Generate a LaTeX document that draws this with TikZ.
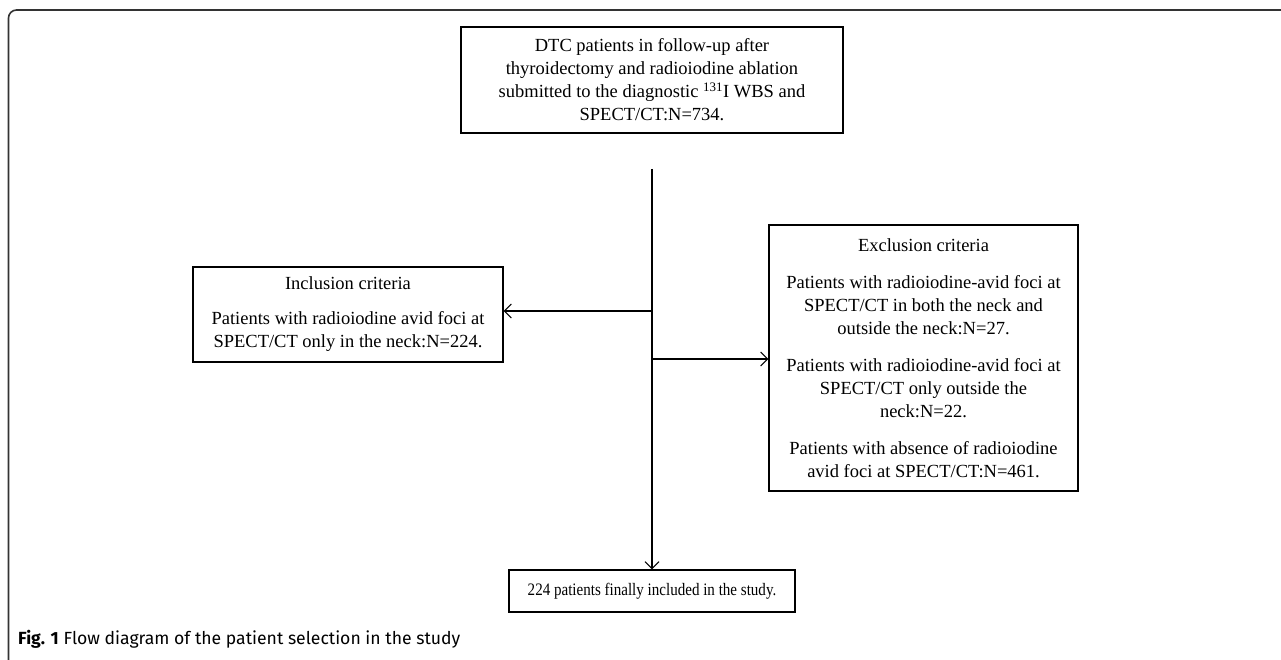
\documentclass[tikz,border=0pt]{standalone}
\usepackage{fontspec}
\usepackage{graphicx}
\setmainfont{Liberation Serif}
\newfontfamily\capfont{Fira Sans}
\usetikzlibrary{arrows.meta}
\begin{document}
\begin{tikzpicture}[x=1pt,y=-1pt,
  boxnode/.style={draw, line width=1.1pt, align=center, inner sep=0pt,
    font=\fontsize{18.5}{23}\selectfont},
  conn/.style={line width=1.1pt, -{Straight Barb[length=7pt,width=14pt,line width=1.1pt]}},
  frameline/.style={line width=1.6pt, draw=black!80}]
\useasboundingbox (0,0) rectangle (1281,660);
\begin{scope}
\clip (0,0) rectangle (1281,660);
\draw[frameline, rounded corners=8pt] (8.5,663) -- (8.5,10) -- (1300,10);
\end{scope}
\node[boxnode, minimum width=382pt, minimum height=106pt] (top) at (652,80)
  {\raisebox{-4pt}{\parbox{380pt}{\centering DTC patients in follow-up after\\ thyroidectomy and radioiodine ablation\\ submitted to the diagnostic \textsuperscript{131}I WBS and\\ SPECT/CT:N=734.}}};
\node[boxnode, minimum width=310pt, minimum height=95pt] (incl) at (348,314.5)
  {\raisebox{-3pt}{\parbox{300pt}{\centering Inclusion criteria\\[12pt] Patients with radioiodine avid foci at\\ SPECT/CT only in the neck:N=224.}}};
\node[boxnode, minimum width=309pt, minimum height=266pt] (excl) at (923.5,358)
  {Exclusion criteria\\[14pt] Patients with radioiodine-avid foci at\\ SPECT/CT in both the neck and\\ outside the neck:N=27.\\[14pt] Patients with radioiodine-avid foci at\\ SPECT/CT only outside the\\ neck:N=22.\\[14pt] Patients with absence of radioiodine\\ avid foci at SPECT/CT:N=461.};
\node[boxnode, minimum width=286pt, minimum height=42pt, font=\fontsize{17.5}{21}\selectfont] (final) at (652,591)
  {\scalebox{0.86}[1]{224 patients finally included in the study.}};
\coordinate (start) at (652,169);
\coordinate (jl) at (652,311);
\coordinate (jr) at (652,359);
\draw[conn] (start) -- (final.north);
\draw[conn] (jl) -- (incl.east |- jl);
\draw[conn] (jr) -- (excl.west |- jr);
\node[anchor=base west, inner sep=0pt, font=\capfont\fontsize{17.6}{20}\selectfont] (cap) at (18,644)
  {\textbf{Fig. 1} Flow diagram of the patient selection in the study};
\end{tikzpicture}
\end{document}
